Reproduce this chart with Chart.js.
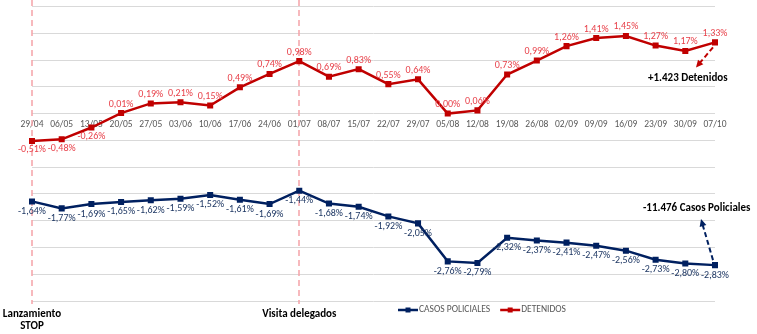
<!DOCTYPE html>
<html>
<head>
<meta charset="utf-8">
<script src="https://cdn.jsdelivr.net/npm/chart.js@4/dist/chart.umd.min.js"></script>
<style>
  html, body { margin: 0; padding: 0; background: #fff; }
</style>
</head>
<body>
<canvas id="chart" width="757" height="334"></canvas>
<script>
// datos
const semanas = ["29/04", "06/05", "13/05", "20/05", "27/05", "03/06", "10/06", "17/06", "24/06", "01/07", "08/07", "15/07",
  "22/07", "29/07", "05/08", "12/08", "19/08", "26/08", "02/09", "09/09", "16/09", "23/09", "30/09", "07/10"];
const detenidos = [-0.51, -0.48, -0.26, 0.01, 0.19, 0.21, 0.15, 0.49, 0.74, 0.98, 0.69, 0.83,
  0.55, 0.64, 0.00, 0.06, 0.73, 0.99, 1.26, 1.41, 1.45, 1.27, 1.17, 1.33];
const casosPoliciales = [-1.64, -1.77, -1.69, -1.65, -1.62, -1.59, -1.52, -1.61, -1.69, -1.44, -1.68, -1.74,
  -1.92, -2.05, -2.76, -2.79, -2.32, -2.37, -2.41, -2.47, -2.56, -2.73, -2.80, -2.83];
const hitos = [
  { semana: "29/04", texto: ["Lanzamiento", "STOP"] },
  { semana: "01/07", texto: ["Visita delegados"] },
];
const totalDetenidos = "+1.423 Detenidos";
const totalCasos = "-11.476 Casos Policiales";
const yMin = -3.5;
const yMax = 2;
const yPaso = 0.5;

const FONT = "Carlito, Lato, 'Open Sans', sans-serif";
const ROJO = "#c00000";
const AZUL = "#002060";

function pct(v) {
  return v.toFixed(2).replace(".", ",") + "%";
}

function flecha(ctx, x1, y1, x2, y2, color) {
  ctx.save();
  ctx.strokeStyle = color;
  ctx.fillStyle = color;
  ctx.lineWidth = 2;
  ctx.setLineDash([5, 3]);
  const ang = Math.atan2(y2 - y1, x2 - x1);
  const ex = x2 - Math.cos(ang) * 5;
  const ey = y2 - Math.sin(ang) * 5;
  ctx.beginPath();
  ctx.moveTo(x1, y1);
  ctx.lineTo(ex, ey);
  ctx.stroke();
  ctx.setLineDash([]);
  ctx.beginPath();
  ctx.moveTo(x2, y2);
  ctx.lineTo(x2 - Math.cos(ang - 0.45) * 8, y2 - Math.sin(ang - 0.45) * 8);
  ctx.lineTo(x2 - Math.cos(ang + 0.45) * 8, y2 - Math.sin(ang + 0.45) * 8);
  ctx.closePath();
  ctx.fill();
  ctx.restore();
}

const extras = {
  id: "extras",
  beforeDatasetsDraw(chart) {
    const { ctx } = chart;
    const x = chart.scales.x;
    ctx.save();
    ctx.strokeStyle = "#f5a3a8";
    ctx.lineWidth = 1.5;
    ctx.setLineDash([6, 4]);
    hitos.forEach((h) => {
      const px = Math.round(x.getPixelForValue(semanas.indexOf(h.semana)));
      ctx.beginPath();
      ctx.moveTo(px, 0);
      ctx.lineTo(px, 304);
      ctx.stroke();
    });
    ctx.restore();
  },
  afterDatasetsDraw(chart) {
    const { ctx } = chart;
    ctx.save();
    ctx.font = "10px " + FONT;
    ctx.textAlign = "center";
    ctx.textBaseline = "middle";
    chart.data.datasets.forEach((ds, i) => {
      const meta = chart.getDatasetMeta(i);
      ctx.fillStyle = ds.labelColor;
      meta.data.forEach((pt, j) => {
        const v = ds.data[j];
        let dy;
        if (ds.label === "DETENIDOS") dy = v >= 0 ? -9 : 9;
        else dy = 10;
        ctx.fillText(pct(v), pt.x, pt.y + dy);
      });
    });
    ctx.restore();
  },
  afterDraw(chart) {
    const { ctx } = chart;
    const x = chart.scales.x;
    const y = chart.scales.y;
    const last = semanas.length - 1;
    const xl = x.getPixelForValue(last);

    // flechas y totales
    flecha(ctx, xl - 2, y.getPixelForValue(detenidos[last]) + 5, xl - 19, y.getPixelForValue(detenidos[last]) + 25, ROJO);
    flecha(ctx, xl - 2, y.getPixelForValue(casosPoliciales[last]) - 5, xl - 14, y.getPixelForValue(casosPoliciales[last]) - 46, AZUL);

    ctx.save();
    ctx.fillStyle = "#000";
    ctx.font = "bold 11px " + FONT;
    ctx.textBaseline = "middle";
    ctx.textAlign = "left";
    ctx.fillText(totalDetenidos, 648, 78);
    ctx.fillText(totalCasos, 643, 208);

    // hitos
    ctx.textAlign = "center";
    hitos.forEach((h) => {
      const px = x.getPixelForValue(semanas.indexOf(h.semana));
      h.texto.forEach((t, k) => ctx.fillText(t, px, 314 + k * 12));
    });

    // leyenda
    const items = [
      { texto: "CASOS POLICIALES", color: AZUL },
      { texto: "DETENIDOS", color: ROJO },
    ];
    ctx.font = "9.5px " + FONT;
    ctx.textAlign = "left";
    let lx = 398;
    items.forEach((it) => {
      ctx.strokeStyle = it.color;
      ctx.fillStyle = it.color;
      ctx.lineWidth = 2.5;
      ctx.beginPath();
      ctx.moveTo(lx, 310);
      ctx.lineTo(lx + 20, 310);
      ctx.stroke();
      ctx.fillRect(lx + 7.5, 307.5, 5, 5);
      ctx.fillStyle = "#595959";
      ctx.fillText(it.texto, lx + 21, 310);
      lx += 21 + ctx.measureText(it.texto).width + 10;
    });
    ctx.restore();
  },
};

new Chart(document.getElementById("chart"), {
  type: "line",
  data: {
    labels: semanas,
    datasets: [
      {
        label: "DETENIDOS",
        data: detenidos,
        borderColor: ROJO,
        backgroundColor: ROJO,
        labelColor: "#e8424b",
        borderWidth: 2.5,
        pointStyle: "rect",
        pointRadius: 2.5,
        tension: 0,
      },
      {
        label: "CASOS POLICIALES",
        data: casosPoliciales,
        borderColor: AZUL,
        backgroundColor: AZUL,
        labelColor: "#1f3864",
        borderWidth: 2.5,
        pointStyle: "rect",
        pointRadius: 2.5,
        tension: 0,
      },
    ],
  },
  options: {
    responsive: false,
    animation: false,
    devicePixelRatio: 1,
    layout: { padding: { left: 32, right: 42, top: 4, bottom: 33 } },
    plugins: {
      legend: { display: false },
      tooltip: { enabled: false },
    },
    scales: {
      x: {
        position: { y: 0 },
        offset: false,
        grid: { display: false, drawTicks: false },
        border: { display: false },
        ticks: {
          color: "#595959",
          font: { size: 9.5, family: FONT },
          autoSkip: false,
          maxRotation: 0,
          padding: 5,
        },
      },
      y: {
        min: yMin,
        max: yMax,
        ticks: { display: false, stepSize: yPaso },
        grid: { color: "#d9d9d9", drawTicks: false },
        border: { display: false },
      },
    },
  },
  plugins: [extras],
});
</script>
</body>
</html>
